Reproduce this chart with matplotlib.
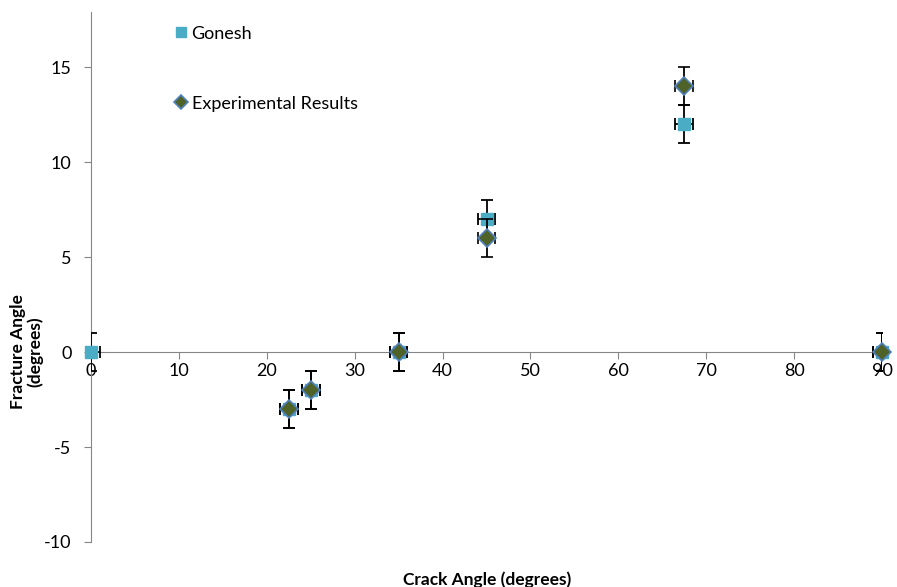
import matplotlib.pyplot as plt

plt.rcParams['font.family'] = ['Lato', 'DejaVu Sans']
plt.rcParams['axes.unicode_minus'] = False

# Gonesh prediction
gon_x = [0, 22.5, 25, 35, 45, 67.5, 90]
gon_y = [0, -3, -2, 0, 7, 12, 0]
# experimental results
exp_x = [22.5, 25, 35, 45, 67.5, 90]
exp_y = [-3, -2, 0, 6, 14, 0]
x_err = 1
y_err = 1

W, H = 897, 587
fig = plt.figure(figsize=(W/100, H/100), dpi=100)
ax = fig.add_axes([91/W, (H-542)/H, (882-91)/W, (542-12)/H])

g = ax.errorbar(gon_x, gon_y, xerr=x_err, yerr=y_err, fmt='s', color='#4BACC6',
                ms=9, mec='#4BACC6', ecolor='black', elinewidth=1.3, capsize=4,
                capthick=1.3, label='Gonesh', zorder=3)
e = ax.errorbar(exp_x, exp_y, xerr=x_err, yerr=y_err, fmt='D', color='#4F6228',
                ms=9, mec='#4F81BD', mew=1.2, ecolor='black', elinewidth=1.3,
                capsize=4, capthick=1.3, label='Experimental Results', zorder=4)
g[0].set_clip_on(False)
e[0].set_clip_on(False)

ax.set_xlim(0, 90)
ax.set_ylim(-10, 17.9)
ax.set_xticks(range(0, 91, 10))
ax.set_yticks(range(-10, 16, 5))

ax.spines['top'].set_visible(False)
ax.spines['right'].set_visible(False)
ax.spines['bottom'].set_position(('data', 0))
for s in ('left', 'bottom'):
    ax.spines[s].set_color('#868686')
ax.tick_params(colors='#868686', labelcolor='black', labelsize=13, length=5)
ax.tick_params(axis='y', pad=9)
ax.tick_params(axis='x', pad=3)

ax.set_xlabel('Crack Angle (degrees)', fontsize=12.5, fontweight='bold')
ax.xaxis.set_label_coords((487-91)/(882-91), -(571-542)/(542-12))
ax.set_ylabel('Fracture Angle\n(degrees)', fontsize=12.5, fontweight='bold',
              linespacing=1.0)
ax.yaxis.set_label_coords(-(91-43)/(882-91), (542-352)/(542-12))

handles, labels = ax.get_legend_handles_labels()
handles = [h[0] for h in handles]
leg = ax.legend(handles, labels, loc='upper left', bbox_to_anchor=(0.086, 1.005),
                frameon=False, fontsize=13, labelspacing=3.0, handlelength=0.6,
                handletextpad=0.3, markerscale=0.8)

fig.savefig('out.png', dpi=100)
